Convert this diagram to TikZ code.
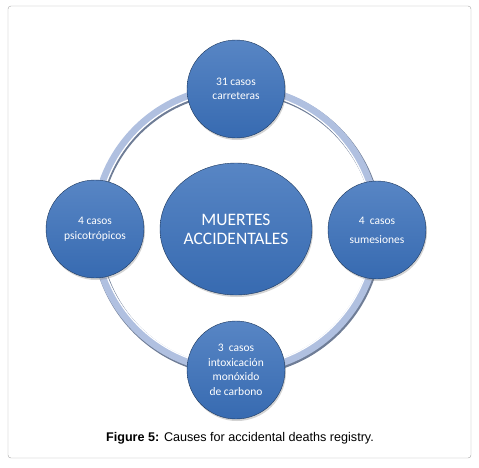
\documentclass[tikz,border=0pt]{standalone}
\usepackage{fontspec}
\setmainfont{Carlito}
\newfontfamily\capfont{Liberation Sans}
\usetikzlibrary{positioning,shapes.geometric,shadows}
\definecolor{ballblue}{HTML}{3A70BA}
\definecolor{ringblue}{HTML}{B0C0E0}
\definecolor{ringedge}{HTML}{6F7D96}
\tikzset{
  ball/.style={circle, minimum size=98pt, inner sep=0pt, align=center,
    top color=ballblue!85!white, bottom color=ballblue!95!black,
    draw=ballblue!50!black, thin, text=white,
    font=\fontsize{11.5}{14.5}\selectfont,
    drop shadow={opacity=0.35, shadow xshift=1pt, shadow yshift=-2pt}},
  hubball/.style={ball, ellipse, minimum width=152pt, minimum height=132pt,
    font=\fontsize{17.5}{19}\selectfont},
}
\begin{document}
\begin{tikzpicture}[x=1pt, y=-1pt]
    \useasboundingbox (0,0) rectangle (479,467);
    \draw[gray!70, rounded corners=3pt] (8,6) rectangle (471,458);
    % ring behind the balls
    \coordinate (hub) at (236,229);
    \draw[ringedge, line width=9pt] ([shift={(1,1.5)}]hub) circle (141pt);
    \draw[ringblue, line width=8pt] (hub) circle (141pt);
    \draw[white, line width=1.2pt] (hub) circle (137.5pt);
    \node[hubball] (centre) at (hub) {MUERTES\\ACCIDENTALES};
    \node[ball] (road) at (236,89) {31 casos\\carreteras};
    \node[ball] (drugs) at (95,229) {4 casos\\psicotrópicos};
    \node[ball, font=\fontsize{11.5}{19}\selectfont] (water) at (377,230) {4\ \ casos\\sumesiones};
    \node[ball] (gas) at (236,370) {3\ \ casos\\intoxicación\\monóxido\\de carbono};
    \node[font=\capfont\fontsize{12.6}{14}\selectfont] (caption) at (240,438)
        {\textbf{Figure 5:} Causes for accidental deaths registry.};
\end{tikzpicture}
\end{document}
